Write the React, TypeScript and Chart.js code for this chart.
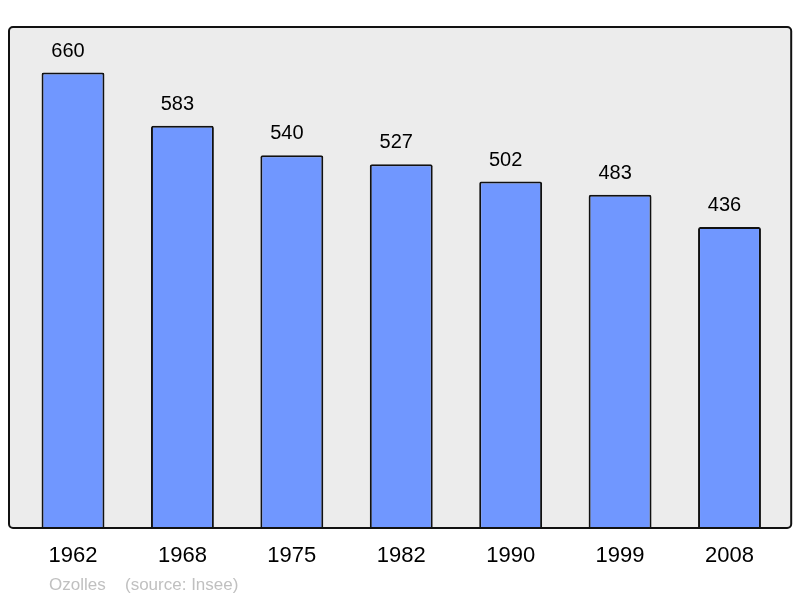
import React, { useEffect, useRef } from "react";
import { Chart, registerables } from "chart.js";

Chart.register(...registerables);

const years: string[] = ["1962", "1968", "1975", "1982", "1990", "1999", "2008"];
const population: number[] = [660, 583, 540, 527, 502, 483, 436];
const yMax = 726;
const footerPlace = "Ozolles";
const footerSource = "(source: Insee)";

const FONT = '"Liberation Sans", Arial, sans-serif';

const framePlugin = {
  id: "frame",
  beforeDraw(chart: any) {
    const { ctx, chartArea } = chart;
    const l = chartArea.left - 9.3;
    const r = chartArea.right + 7;
    const t = chartArea.top;
    const b = chartArea.bottom;
    ctx.save();
    ctx.fillStyle = "#ececec";
    ctx.beginPath();
    (ctx as any).roundRect(l, t, r - l, b - t, 4);
    ctx.fill();
    ctx.restore();
  },
  afterDatasetsDraw(chart: any) {
    const { ctx, chartArea } = chart;
    const l = chartArea.left - 9.3;
    const r = chartArea.right + 7;
    const t = chartArea.top;
    const b = chartArea.bottom;
    ctx.save();
    ctx.strokeStyle = "#111";
    ctx.lineWidth = 2;
    ctx.beginPath();
    (ctx as any).roundRect(l, t, r - l, b - t, 4);
    ctx.stroke();

    // value labels
    const meta = chart.getDatasetMeta(0);
    ctx.fillStyle = "#000";
    ctx.font = `20px ${FONT}`;
    ctx.textAlign = "center";
    ctx.textBaseline = "middle";
    meta.data.forEach((el: any, i: number) => {
      ctx.fillText(String(population[i]), el.x - 5, el.y - 21.5);
    });

    // footer
    ctx.fillStyle = "#c0c0c0";
    ctx.font = `17px ${FONT}`;
    ctx.textAlign = "left";
    ctx.fillText(footerPlace, 49, 585);
    ctx.fillText(footerSource, 125, 585);
    ctx.restore();
  },
};

export default function App() {
  const ref = useRef<HTMLCanvasElement>(null);
  useEffect(() => {
    if (!ref.current) return;
    const chart = new Chart(ref.current, {
      type: "bar",
      data: {
        labels: years,
        datasets: [
          {
            data: population,
            backgroundColor: "#7097ff",
            borderColor: "#111",
            borderWidth: 2,
            borderRadius: 2,
            borderSkipped: "bottom",
            categoryPercentage: 1,
            barPercentage: 0.575,
          },
        ],
      },
      options: {
        responsive: false,
        animation: false,
        layout: { padding: { left: 18.3, right: 15.8, top: 27, bottom: 13.6 } },
        plugins: {
          legend: { display: false },
          tooltip: { enabled: false },
          title: { display: false },
        },
        scales: {
          y: { display: false, min: 0, max: yMax },
          x: {
            grid: { display: false, drawTicks: false },
            border: { display: false },
            ticks: {
              color: "#000",
              padding: 15,
              font: { family: FONT, size: 22 },
            },
          },
        },
      },
      plugins: [framePlugin],
    });
    return () => chart.destroy();
  }, []);
  return (
    <div style={{ position: "fixed", left: 0, top: 0, width: 800, height: 598, background: "#fff" }}>
      <canvas ref={ref} width={800} height={598} style={{ display: "block" }} />
    </div>
  );
}
